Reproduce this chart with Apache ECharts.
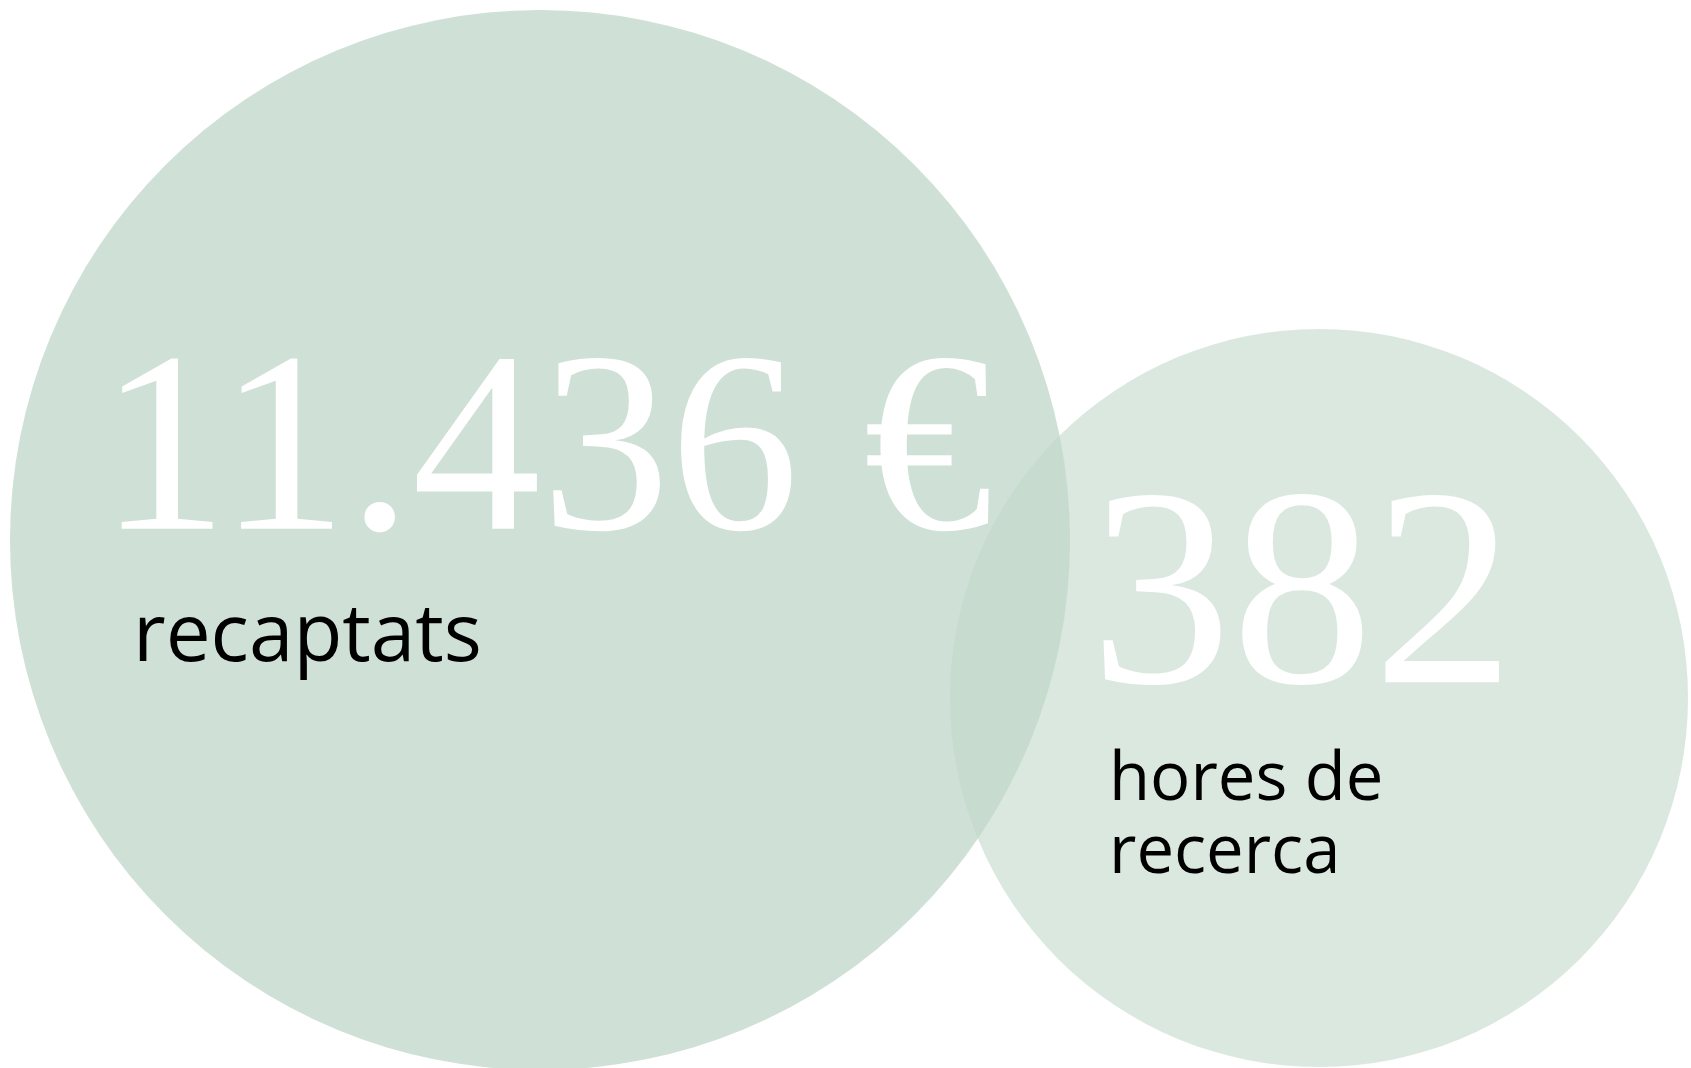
<!DOCTYPE html>
<html>
<head>
<meta charset="utf-8">
<script src="https://cdn.jsdelivr.net/npm/echarts@6/dist/echarts.min.js"></script>
<style>
  html, body { margin: 0; padding: 0; background: #fff; }
  #main { width: 1691px; height: 1068px; }
</style>
</head>
<body>
<div id="main"></div>
<script>
// dades
var valueLabels = ['11.436 €', '382'];
var captions = ['recaptats', 'hores de\nrecerca'];
var values = [11436, 382];

// posició i mida de les bombolles (px de la graella)
var centers = [[540, 540], [1319, 698]];
var sizes = [1060, 738];
var fills = ['rgba(193,215,202,0.77)', 'rgba(193,215,202,0.58)'];
var labelPos = [[89, 310], [140, 143]];
var numSize = [258, 283];
var numLine = [282, 272];
var capSize = [80, 67];
var capLine = [73, 73];
var capPad = [34, 19];

var myChart = echarts.init(document.getElementById('main'));

var seriesData = values.map(function (v, i) {
  return {
    value: [centers[i][0], centers[i][1], v],
    symbolSize: sizes[i],
    itemStyle: { color: fills[i], opacity: 1 },
    label: {
      show: true,
      position: labelPos[i],
      align: 'left',
      verticalAlign: 'top',
      formatter: '{v|' + valueLabels[i] + '}\n' +
        captions[i].split('\n').map(function (c) { return '{c|' + c + '}'; }).join('\n'),
      rich: {
        v: {
          fontFamily: 'Liberation Serif',
          fontSize: numSize[i],
          lineHeight: numLine[i],
          color: '#ffffff'
        },
        c: {
          fontFamily: 'Open Sans',
          fontSize: capSize[i],
          lineHeight: capLine[i],
          color: '#000000',
          padding: [0, 0, 0, capPad[i]]
        }
      }
    }
  };
});

var option = {
  animation: false,
  grid: { left: 0, right: 0, top: 0, bottom: 0 },
  xAxis: { type: 'value', min: 0, max: 1691, show: false },
  yAxis: { type: 'value', min: 0, max: 1068, inverse: true, show: false },
  series: [
    {
      type: 'scatter',
      data: seriesData,
      emphasis: { disabled: true }
    }
  ]
};
myChart.setOption(option);
window.addEventListener('resize', function () {
  myChart.resize();
});
</script>
</body>
</html>
